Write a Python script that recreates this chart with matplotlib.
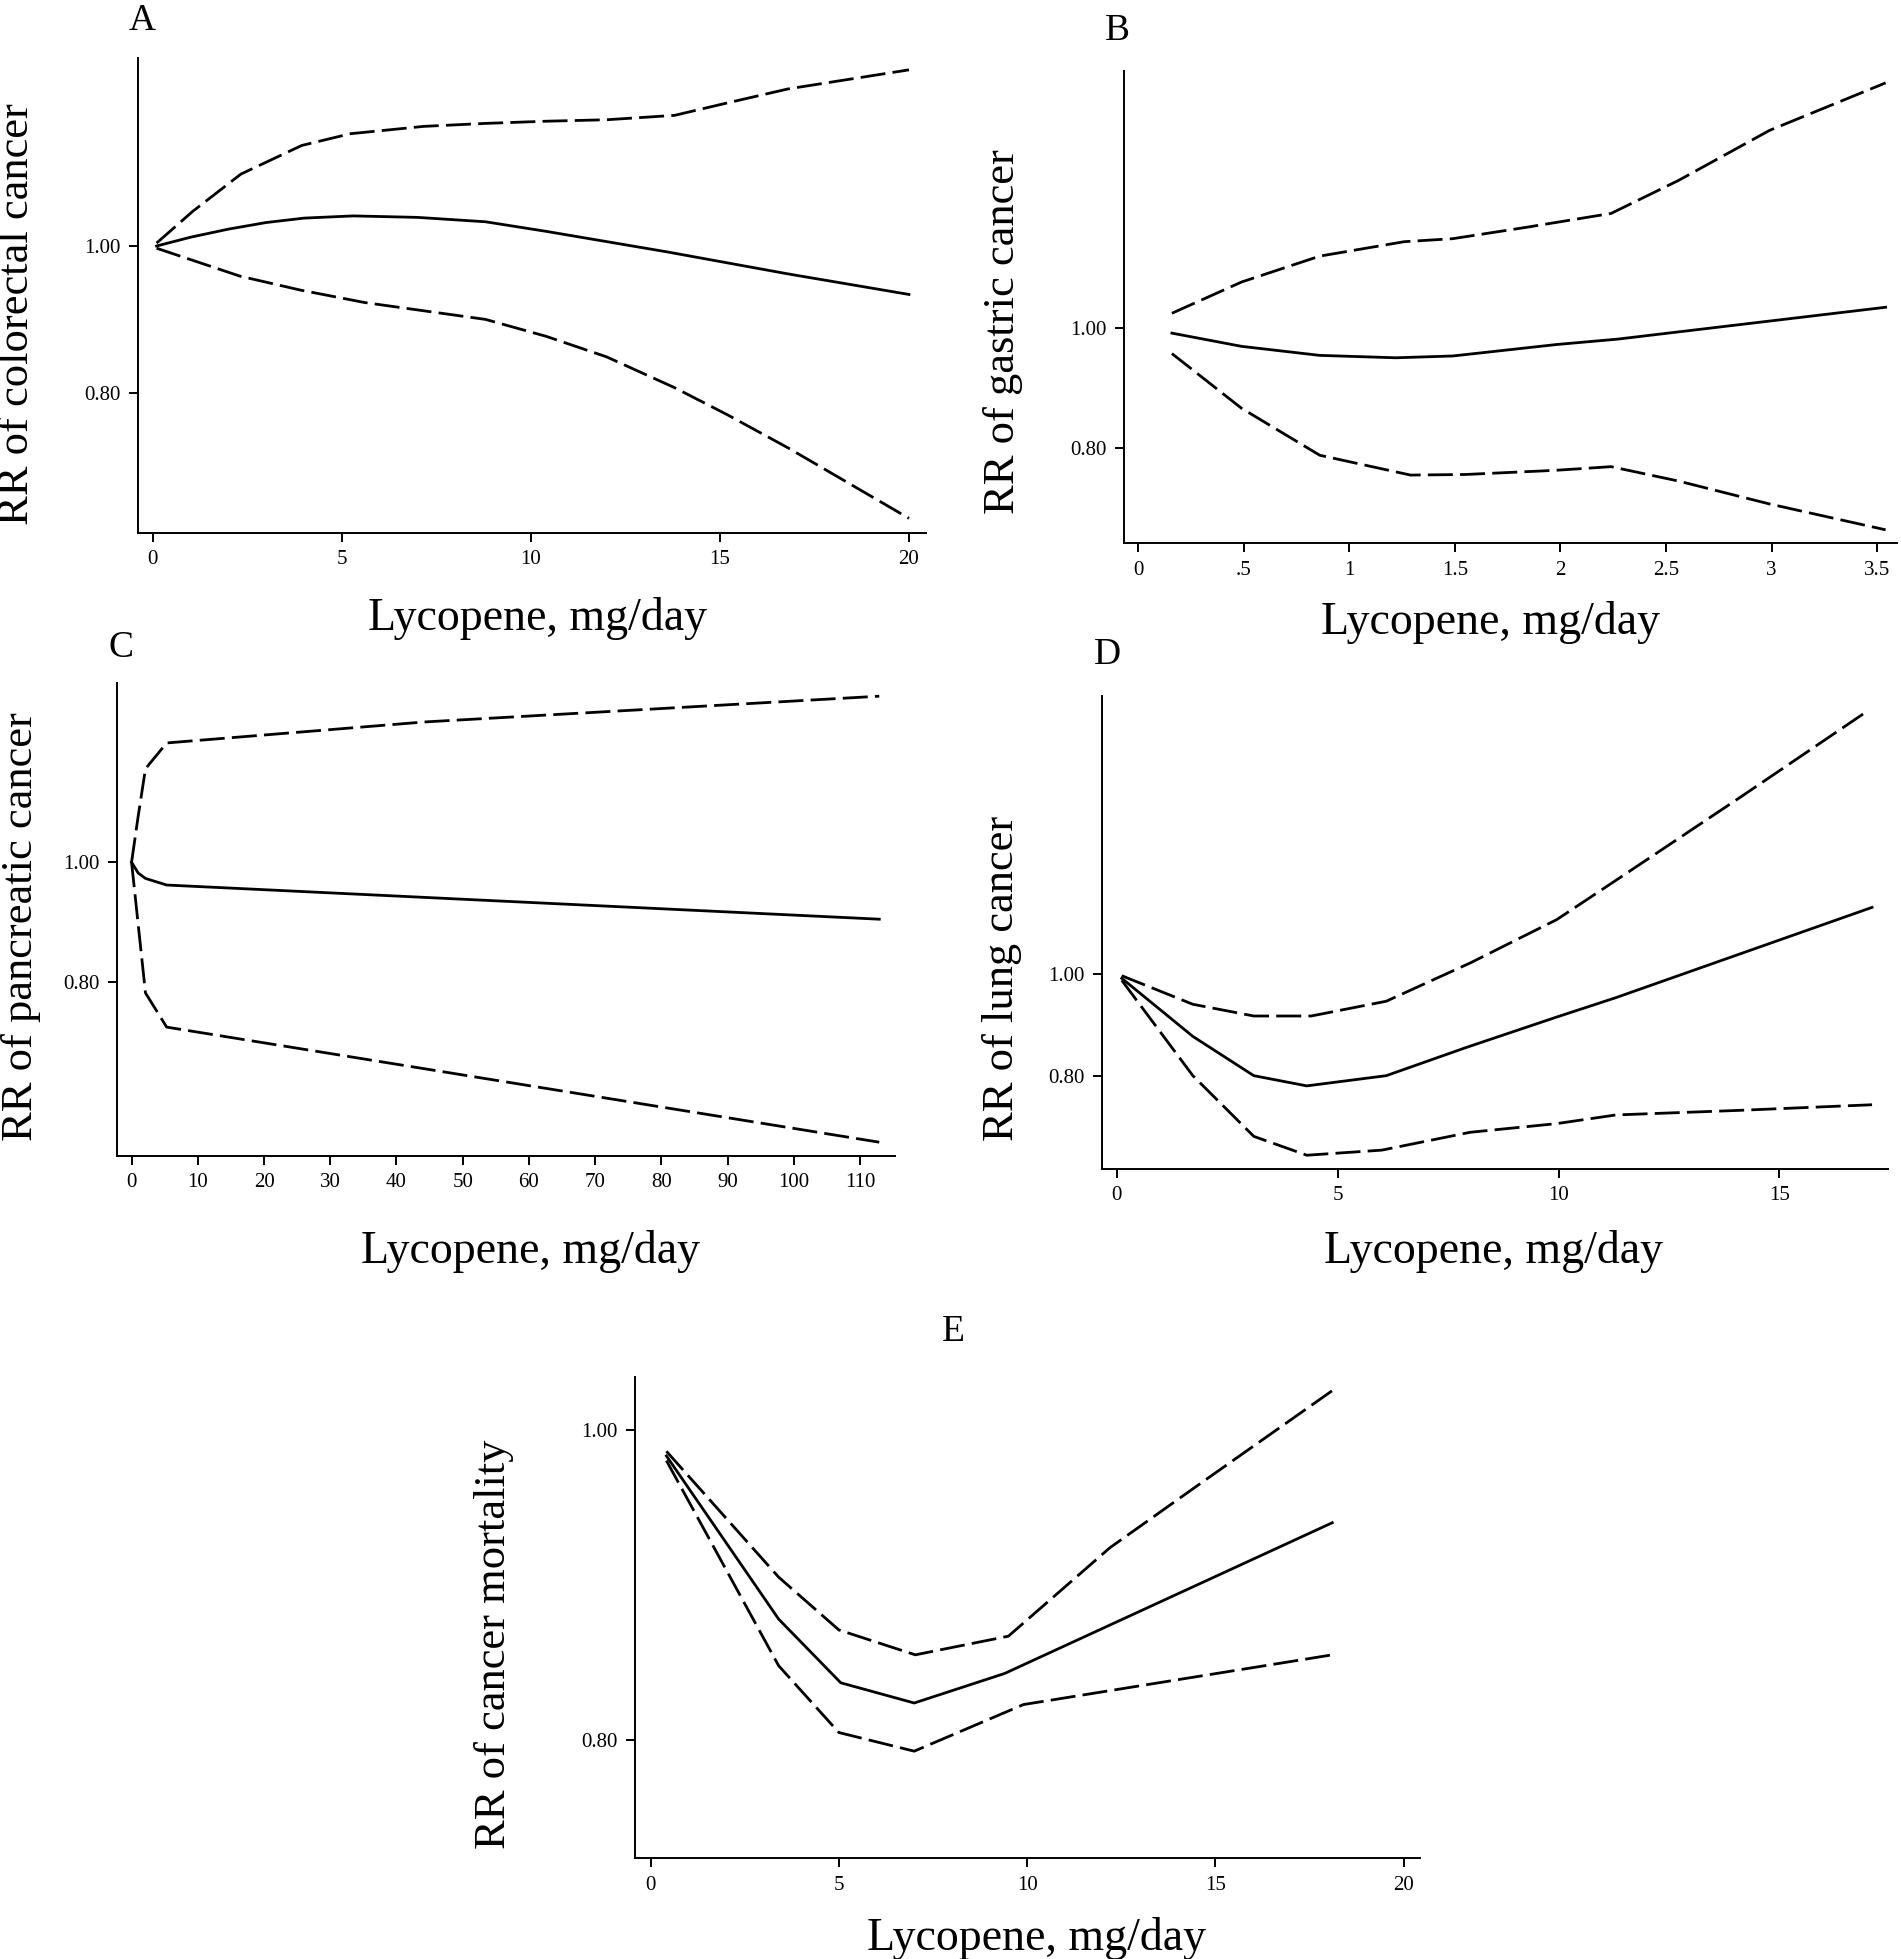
import numpy as np
import matplotlib
matplotlib.use("Agg")
import matplotlib.pyplot as plt

plt.rcParams["font.family"] = ["Liberation Serif", "DejaVu Serif"]

W = 1901
H = 1959

# panel A - colorectal cancer
a_x_est = [0.1, 1.0, 2.0, 3.0, 4.0, 5.3, 7.0, 8.8, 10.4, 12.0, 13.6, 15.2, 16.8, 18.4, 20.0]
a_est = [1.000, 1.012, 1.023, 1.032, 1.038, 1.041, 1.039, 1.033, 1.020, 1.006, 0.992, 0.977, 0.962, 0.948, 0.934]
a_x_hi = [0.1, 1.05, 2.33, 3.94, 5.23, 7.17, 8.78, 10.4, 12.0, 13.8, 15.2, 16.8, 20.0]
a_hi = [1.004, 1.047, 1.098, 1.137, 1.153, 1.163, 1.167, 1.170, 1.172, 1.178, 1.195, 1.214, 1.240]
a_x_lo = [0.1, 2.3, 3.9, 5.6, 8.8, 10.4, 12.0, 13.8, 15.2, 16.8, 20.0]
a_lo = [0.997, 0.959, 0.940, 0.923, 0.900, 0.877, 0.849, 0.807, 0.770, 0.725, 0.629]

# panel B - gastric cancer
b_x_est = [0.16, 0.49, 0.86, 1.22, 1.49, 1.98, 2.27, 3.54]
b_est = [0.991, 0.969, 0.954, 0.950, 0.953, 0.972, 0.981, 1.034]
b_x_hi = [0.16, 0.49, 0.86, 1.26, 1.49, 1.84, 2.24, 2.56, 2.99, 3.54]
b_hi = [1.024, 1.076, 1.119, 1.143, 1.148, 1.167, 1.190, 1.245, 1.328, 1.407]
b_x_lo = [0.16, 0.49, 0.86, 1.29, 1.55, 1.98, 2.24, 2.56, 2.99, 3.54]
b_lo = [0.957, 0.866, 0.788, 0.755, 0.756, 0.763, 0.769, 0.745, 0.707, 0.664]

# panel C - pancreatic cancer
c_x_est = [0.0, 1.0, 2.1, 5.3, 112.9]
c_est = [1.000, 0.982, 0.973, 0.962, 0.905]
c_x_hi = [0.0, 1.0, 2.1, 5.3, 44.2, 112.9]
c_hi = [1.000, 1.077, 1.156, 1.199, 1.234, 1.277]
c_x_lo = [0.0, 1.0, 2.1, 5.3, 112.9]
c_lo = [1.000, 0.896, 0.782, 0.725, 0.533]

# panel D - lung cancer
d_x_est = [0.11, 1.72, 3.1, 4.3, 6.1, 7.9, 9.96, 11.3, 17.1]
d_est = [0.991, 0.877, 0.800, 0.780, 0.800, 0.855, 0.915, 0.953, 1.130]
d_x_hi = [0.11, 1.72, 3.1, 4.4, 6.1, 8.0, 9.96, 11.3, 14.1, 17.03]
d_hi = [0.996, 0.940, 0.917, 0.917, 0.946, 1.021, 1.106, 1.183, 1.345, 1.517]
d_x_lo = [0.11, 1.72, 3.1, 4.3, 6.0, 8.0, 9.96, 11.3, 14.1, 17.1]
d_lo = [0.987, 0.800, 0.681, 0.644, 0.654, 0.689, 0.706, 0.723, 0.732, 0.743]

# panel E - cancer mortality
e_x_est = [0.42, 3.4, 5.05, 7.0, 9.4, 18.1]
e_est = [0.983, 0.878, 0.837, 0.824, 0.843, 0.940]
e_x_hi = [0.42, 3.4, 5.0, 7.03, 9.5, 12.2, 14.7, 18.1]
e_hi = [0.986, 0.905, 0.871, 0.855, 0.867, 0.924, 0.967, 1.025]
e_x_lo = [0.42, 3.4, 5.0, 7.0, 9.9, 18.1]
e_lo = [0.980, 0.848, 0.805, 0.793, 0.823, 0.855]

panels = [
    # letter, ylabel, axes rect (px: left, top, right, bottom), xlim, ylim, xticks, xticklabels
    ("A", "RR of colorectal cancer", (137.7, 58.1, 926, 533), (-0.40, 20.45), (0.609, 1.256),
     [0, 5, 10, 15, 20], ["0", "5", "10", "15", "20"],
     (a_x_est, a_est, a_x_hi, a_hi, a_x_lo, a_lo)),
    ("B", "RR of gastric cancer", (1124.2, 70.5, 1896.6, 543.3), (-0.066, 3.592), (0.6416, 1.4276),
     [0, 0.5, 1, 1.5, 2, 2.5, 3, 3.5], ["0", ".5", "1", "1.5", "2", "2.5", "3", "3.5"],
     (b_x_est, b_est, b_x_hi, b_hi, b_x_lo, b_lo)),
    ("C", "RR of pancreatic cancer", (117, 683, 894.5, 1156), (-2.2, 115.2), (0.510, 1.299),
     list(range(0, 111, 10)), [str(v) for v in range(0, 111, 10)],
     (c_x_est, c_est, c_x_hi, c_hi, c_x_lo, c_lo)),
    ("D", "RR of lung cancer", (1101.7, 696, 1887.5, 1169), (-0.344, 17.45), (0.617, 1.5445),
     [0, 5, 10, 15], ["0", "5", "10", "15"],
     (d_x_est, d_est, d_x_hi, d_hi, d_x_lo, d_lo)),
    ("E", "RR of cancer mortality", (634.6, 1377, 1419.6, 1858.4), (-0.425, 20.42), (0.724, 1.0338),
     [0, 5, 10, 15, 20], ["0", "5", "10", "15", "20"],
     (e_x_est, e_est, e_x_hi, e_hi, e_x_lo, e_lo)),
]

# label positions in pixels: panel letter, ylabel center, xlabel center
letter_pos = {"A": (142.5, 20.7), "B": (1116.9, 31.1), "C": (121.3, 648), "D": (1107.8, 654.7), "E": (953.7, 1331.5)}
ylab_pos = {"A": (17, 314), "B": (1002.8, 332), "C": (21, 927), "D": (1001.6, 978), "E": (494, 1644)}
xlab_pos = {"A": (537, 618), "B": (1490, 622), "C": (530.6, 1251.5), "D": (1493, 1251.5), "E": (1036.7, 1939)}

dash = (0, (9, 2.6))

fig = plt.figure(figsize=(W / 100, H / 100), dpi=100)

for letter, ylab, rect, xlim, ylim, xt, xtl, lines in panels:
    l, t, r, b = rect
    ax = fig.add_axes([l / W, 1 - b / H, (r - l) / W, (b - t) / H])
    xe, ye, xh, yh, xl, yl = lines
    ax.plot(xe, ye, color="black", linewidth=2.0, linestyle="-")
    ax.plot(xh, yh, color="black", linewidth=2.0, linestyle=dash)
    ax.plot(xl, yl, color="black", linewidth=2.0, linestyle=dash)
    ax.set_xlim(xlim)
    ax.set_ylim(ylim)
    ax.set_xticks(xt)
    ax.set_xticklabels(xtl)
    ax.set_yticks([0.8, 1.0])
    ax.set_yticklabels(["0.80", "1.00"])
    ax.spines["top"].set_visible(False)
    ax.spines["right"].set_visible(False)
    ax.spines["left"].set_linewidth(1.4)
    ax.spines["bottom"].set_linewidth(1.4)
    ax.tick_params(width=1.4, length=6.5, labelsize=15, pad=6)

    lx, ly = letter_pos[letter]
    fig.text(lx / W, 1 - ly / H, letter, fontsize=27, ha="center", va="center")
    yx, yy = ylab_pos[letter]
    fig.text(yx / W, 1 - yy / H, ylab, fontsize=32, rotation=90, ha="center", va="center")
    xx, xy = xlab_pos[letter]
    fig.text(xx / W, 1 - xy / H, "Lycopene, mg/day", fontsize=33, ha="center", va="center")

plt.savefig("out.png", dpi=100)
